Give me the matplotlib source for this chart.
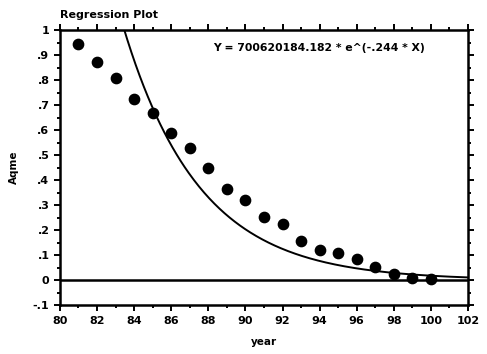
import numpy as np
import matplotlib
matplotlib.use("Agg")
import matplotlib.pyplot as plt
from matplotlib.ticker import MultipleLocator

# observed values by year
years = [81, 82, 83, 84, 85, 86, 87, 88, 89, 90,
         91, 92, 93, 94, 95, 96, 97, 98, 99, 100]
values = [0.944, 0.871, 0.81, 0.726, 0.669, 0.589, 0.528, 0.448, 0.363, 0.319,
          0.254, 0.226, 0.157, 0.121, 0.109, 0.085, 0.052, 0.026, 0.008, 0.004]

# fitted exponential: Y = a * e^(b * X)
coef_a = 700620184.182
coef_b = -0.244

xticks = list(range(80, 103, 2))
yticks = [-0.1, 0, 0.1, 0.2, 0.3, 0.4, 0.5, 0.6, 0.7, 0.8, 0.9, 1.0]
ytick_labels = ["-.1", "0", ".1", ".2", ".3", ".4", ".5", ".6", ".7", ".8", ".9", "1"]

plt.rcParams["font.family"] = ["DejaVu Sans"]
plt.rcParams["font.weight"] = "bold"

fig = plt.figure(figsize=(4.87, 3.54), dpi=100)
ax = fig.add_axes([0.123, 0.138, 0.838, 0.777])

ax.scatter(years, values, s=55, color="black", zorder=3)

xs = np.linspace(80, 102, 400)
ax.plot(xs, coef_a * np.exp(coef_b * xs), color="black", linewidth=1.4)
ax.axhline(0, color="black", linewidth=1.8)

ax.set_xlim(80, 102)
ax.set_ylim(-0.1, 1.0)
ax.set_xticks(xticks)
ax.set_xticklabels([str(t) for t in xticks])
ax.set_yticks(yticks)
ax.set_yticklabels(ytick_labels)
ax.xaxis.set_minor_locator(MultipleLocator(1))
ax.yaxis.set_minor_locator(MultipleLocator(0.05))
ax.tick_params(which="both", direction="out", top=True, right=True,
               labeltop=False, labelright=False, width=1.4, labelsize=8)
ax.tick_params(which="major", length=4)
ax.tick_params(which="minor", length=2.5)
for spine in ax.spines.values():
    spine.set_linewidth(1.8)

ax.set_xlabel("year", fontsize=7.5, fontweight="bold", labelpad=8)
ax.set_ylabel("Aqme", fontsize=7.5, fontweight="bold", labelpad=10)
ax.text(0.0, 1.035, "Regression Plot", transform=ax.transAxes,
        fontsize=8, fontweight="bold", ha="left", va="bottom")
ax.text(0.375, 0.935, "Y = 700620184.182 * e^(-.244 * X)", transform=ax.transAxes,
        fontsize=7.8, fontweight="bold", ha="left", va="center")

fig.savefig("out.png", dpi=100)
